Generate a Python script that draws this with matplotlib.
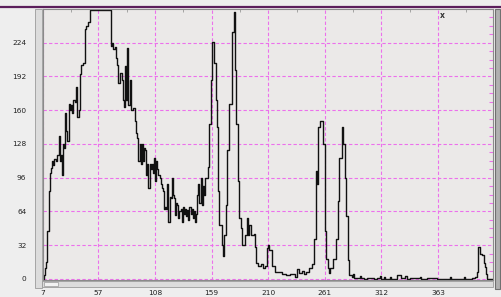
import matplotlib
matplotlib.use("Agg")
import matplotlib.pyplot as plt
from matplotlib.lines import Line2D
from matplotlib.patches import Rectangle
from matplotlib.ticker import FixedLocator, MultipleLocator

# histogram: bin start -> count (step drawing)
bin_x = [7, 8, 9, 10, 11, 12.5, 13, 14, 15, 16, 17, 19, 20, 21, 22, 23, 24, 25, 26,
         27, 28, 29, 30, 31, 32, 33, 34, 36, 37, 38, 39, 40, 41, 43, 45, 46, 48, 49,
         68, 69, 70, 72, 73, 74, 75, 76, 78, 79, 80, 81, 82, 83, 84, 85, 86, 88, 90,
         91, 92, 93, 94, 95, 96, 97, 98, 99, 100, 101, 102, 103, 104, 105, 106, 107,
         108, 109, 110, 111, 112, 113, 114, 115, 116, 117, 118, 119, 120, 121, 122,
         123, 124, 125, 126, 127, 128, 129, 130, 131, 132, 133, 134, 135, 136, 137,
         138, 139, 140, 141, 142, 143, 144, 145, 146, 147, 148, 149, 150, 151, 152,
         153, 156, 157, 158, 159, 161, 163, 164, 165, 166, 168, 169, 170, 172, 173,
         175, 177, 179, 180, 181, 183, 184, 185, 186, 189, 191, 192, 193, 194, 197,
         198, 199, 201, 203, 205, 207, 209, 210, 211, 213, 216, 222, 226, 230, 234,
         236, 238, 240, 242, 244, 247, 249, 251, 253, 254, 255, 257, 259, 261, 262,
         264, 265, 266, 268, 271, 273, 274, 276, 277, 279, 280, 282, 283, 285, 286,
         287, 289, 293, 294, 296, 299, 305, 308, 311, 312, 314, 315, 320, 321, 326,
         330, 333, 335, 338, 347, 348, 353, 362, 374, 375, 386, 387, 394, 396, 398,
         399, 401, 403, 404, 405, 406, 407, 412]
counts = [0, 4, 10, 16, 45, 83, 100, 105, 112, 108, 114, 112, 118, 136, 112, 118, 99, 128, 124,
          157, 140, 131, 166, 160, 165, 157, 170, 168, 182, 154, 160, 194, 203, 205, 237, 240, 244, 255,
          221, 224, 218, 220, 210, 203, 186, 195, 189, 170, 163, 202, 170, 219, 165, 189, 160, 162, 150,
          138, 134, 112, 128, 109, 128, 112, 124, 122, 99, 109, 86, 109, 104, 109, 100, 115,
          93, 112, 104, 99, 96, 90, 86, 83, 66, 68, 66, 90, 54, 78, 77,
          96, 80, 77, 61, 72, 70, 58, 64, 66, 54, 68, 62, 66, 60, 65,
          56, 68, 62, 66, 58, 64, 54, 62, 80, 90, 72, 96, 70, 88, 80,
          96, 106, 147, 189, 225, 205, 170, 144, 83, 51, 32, 22, 42, 70, 122,
          166, 234, 253, 198, 147, 93, 58, 48, 32, 42, 58, 42, 51, 42, 43,
          30, 15, 12, 14, 10, 12, 29, 32, 27, 12, 7, 4.5, 4, 4.5, 2,
          9, 6, 8, 5, 7, 10, 14, 38, 102, 90, 144, 150, 128, 45, 19,
          10, 6, 10, 19, 38, 74, 115, 144, 128, 96, 60, 18, 3.5, 2, 4.5,
          1, 1, 2.5, 1, 0, 1, 0, 1, 2.5, 0, 2, 0, 2, 0, 4,
          1, 2.5, 0, 0.6, 2, 0, 0.5, 0, 2, 0, 2, 0, 0.5, 2, 7,
          30, 24, 23, 15, 11.5, 5, 0, 0]

x_ticks = [7, 57, 108, 159, 210, 261, 312, 363]
y_ticks = [0, 32, 64, 96, 128, 160, 192, 224]

grid_col = '#ec70ec'

fig = plt.figure(figsize=(5.01, 2.97), dpi=100, facecolor='#eeeeee')
ax = fig.add_axes([43 / 501, 17 / 297, 450 / 501, 271 / 297])
ax.set_facecolor('#ebe9e8')

ax.step(bin_x, counts, where='post', color='#111111', lw=1.0)

ax.set_xlim(7, 412.5)
ax.set_ylim(-1, 256)
ax.set_xticks(x_ticks)
ax.set_yticks(y_ticks)
ax.tick_params(axis='both', length=0, labelsize=5.3, colors='#222222')
ax.tick_params(axis='x', pad=7)
ax.tick_params(axis='y', pad=12)
ax.grid(True, color=grid_col, ls=(0, (3, 2)), lw=0.8)

# small magenta ticks on the right edge, gray ticks on top
ax.yaxis.set_minor_locator(MultipleLocator(8))
ax.tick_params(axis='y', which='minor', left=False, right=True, direction='in',
               length=3, color=grid_col, width=0.8)
ax.xaxis.set_minor_locator(FixedLocator([32, 82.5, 133.5, 184.5, 235.5, 286.5, 337.5, 388]))
ax.tick_params(axis='x', which='minor', bottom=False, top=True, direction='in',
               length=2, color='#999999', width=0.6)

for s in ax.spines.values():
    s.set_color('#8a8a8a')
    s.set_linewidth(0.8)

ax.text(0.887, 0.975, 'x', transform=ax.transAxes, fontsize=5.5, fontweight='bold',
        ha='center', va='center', color='#333333')

# window chrome: top purple rule and scrollbars
fig.add_artist(Line2D([0, 1], [1 - 6.5 / 297, 1 - 6.5 / 297], color='#5c1f5c', lw=1.6))
fig.add_artist(Rectangle((35 / 501, 9 / 297), 7 / 501, 279 / 297, facecolor='#dcdcdc',
                         edgecolor='#9a9a9a', lw=0.6))
fig.add_artist(Rectangle((42 / 501, 10 / 297), 451 / 501, 6 / 297, facecolor='#dcdcdc',
                         edgecolor='#9a9a9a', lw=0.6))
fig.add_artist(Rectangle((44 / 501, 11 / 297), 14 / 501, 4 / 297, facecolor='#f2f2f2',
                         edgecolor='#9a9a9a', lw=0.5))
fig.add_artist(Rectangle((495 / 501, 8 / 297), 5 / 501, 280 / 297, facecolor='#b0b0b0',
                         edgecolor='#707070', lw=0.8))

fig.savefig('out.png', dpi=100, facecolor=fig.get_facecolor())
